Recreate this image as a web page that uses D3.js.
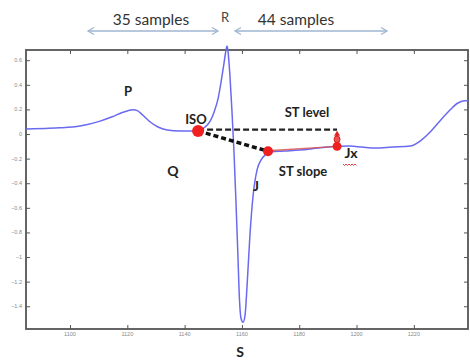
<!DOCTYPE html>
<html><head><meta charset="utf-8">
<script src="https://cdn.jsdelivr.net/npm/d3@7"></script>
<style>body{margin:0;background:#fff}svg{display:block}</style>
</head><body>
<script>
const sampleX = [1084.6,1091.3,1096.5,1103.5,1110.5,1114.7,1118.2,1120.2,1122.0,1123.5,1125.1,1127.9,1130.7,1133.9,1138.4,1142.6,1145.0,1147.1,1148.9,1150.3,1151.7,1152.7,1153.8,1154.5,1154.8,1155.1,1155.8,1156.5,1157.2,1157.9,1158.6,1159.0,1159.7,1160.4,1161.1,1161.8,1162.8,1163.9,1165.3,1166.7,1168.1,1169.8,1175.1,1180.3,1186.6,1193.2,1197.7,1201.9,1206.5,1212.4,1218.7,1222.2,1225.7,1229.1,1232.6,1235.4,1237.9,1239.0];
const ecgY = [0.04,0.045,0.05,0.065,0.105,0.14,0.175,0.19,0.197,0.19,0.16,0.10,0.057,0.033,0.024,0.024,0.033,0.057,0.105,0.18,0.29,0.42,0.585,0.69,0.715,0.68,0.48,0.195,-0.13,-0.54,-0.985,-1.27,-1.50,-1.53,-1.47,-1.23,-0.82,-0.50,-0.29,-0.21,-0.17,-0.146,-0.138,-0.13,-0.114,-0.10,-0.098,-0.106,-0.114,-0.106,-0.098,-0.057,0.016,0.106,0.195,0.252,0.27,0.27];
const xTicks = [1100,1120,1140,1160,1180,1200,1220];
const yTicks = [0.6,0.4,0.2,0,-0.2,-0.4,-0.6,-0.8,-1,-1.2,-1.4];
const pointNames = ["ISO","J","Jx"];
const pointX = [1144.7,1169.1,1193.2];
const pointY = [0.025,-0.14,-0.10];

const W=470,H=363;
const svg=d3.select("body").append("svg").attr("width",W).attr("height",H);
const L=26,R=468,T=50,B=329;
const x=d3.scaleLinear().domain([1084.64,1238.9]).range([L,R]);
const y=d3.scaleLinear().domain([-1.585,0.683]).range([B,T]);

svg.append("rect").attr("x",L).attr("y",T).attr("width",R-L).attr("height",B-T)
  .attr("fill","none").attr("stroke","#555").attr("stroke-width",1.8);

const fmtY=d=>d===0?"0":d3.format("")(d);
const ya=svg.append("g").attr("transform",`translate(${L},0)`)
  .call(d3.axisRight(y).tickValues(yTicks).tickSize(4).tickFormat(""));
ya.select(".domain").remove();
ya.selectAll("line").attr("stroke","#555");
svg.append("g").selectAll("text").data(yTicks).join("text")
  .attr("x",L-4).attr("y",d=>y(d)+2).attr("text-anchor","end")
  .attr("font-family","Liberation Sans, Arial").attr("font-size",5.5).attr("fill","#888").text(fmtY);
const yr=svg.append("g").attr("transform",`translate(${R},0)`)
  .call(d3.axisLeft(y).tickValues(yTicks).tickSize(4).tickFormat(""));
yr.select(".domain").remove();
yr.selectAll("line").attr("stroke","#555");
const xa=svg.append("g").attr("transform",`translate(0,${B})`)
  .call(d3.axisTop(x).tickValues(xTicks).tickSize(4).tickFormat(""));
xa.select(".domain").remove();
xa.selectAll("line").attr("stroke","#555");
svg.append("g").selectAll("text").data(xTicks).join("text")
  .attr("x",d=>x(d)).attr("y",B+7).attr("text-anchor","middle")
  .attr("font-family","Liberation Sans, Arial").attr("font-size",5.5).attr("fill","#888").text(d=>d);
const xt=svg.append("g").attr("transform",`translate(0,${T})`)
  .call(d3.axisBottom(x).tickValues(xTicks).tickSize(4).tickFormat(""));
xt.select(".domain").remove();
xt.selectAll("line").attr("stroke","#555");

const pts=sampleX.map((d,i)=>[d,ecgY[i]]);
svg.append("path").datum(pts)
  .attr("d",d3.line().x(d=>x(d[0])).y(d=>y(d[1])).curve(d3.curveMonotoneX))
  .attr("fill","none").attr("stroke","#6a6af0").attr("stroke-width",1.5);

svg.append("line").attr("x1",x(pointX[0])).attr("y1",y(0.035)).attr("x2",x(pointX[2])).attr("y2",y(0.035))
  .attr("stroke","#222").attr("stroke-width",2.2).attr("stroke-dasharray","6,3");
svg.append("line").attr("x1",x(pointX[0])).attr("y1",y(pointY[0])).attr("x2",x(pointX[1])).attr("y2",y(pointY[1]))
  .attr("stroke","#111").attr("stroke-width",3.5).attr("stroke-dasharray","5,3");
svg.append("line").attr("x1",x(pointX[1])).attr("y1",y(pointY[1])-0.5).attr("x2",x(pointX[2])).attr("y2",y(pointY[2]))
  .attr("stroke","#d9534f").attr("stroke-width",1.3).attr("opacity",0.85);
svg.append("line").attr("x1",x(pointX[2])).attr("y1",y(pointY[2])).attr("x2",x(pointX[2])).attr("y2",y(0.035)+4)
  .attr("stroke","#e02020").attr("stroke-width",1.5);
svg.append("path").attr("d",`M${x(pointX[2])-3},${y(0.035)+6} L${x(pointX[2])},${y(0.035)+1} L${x(pointX[2])+3},${y(0.035)+6} Z`).attr("fill","#e02020");
svg.append("ellipse").attr("cx",x(pointX[2])).attr("cy",y(pointY[2])-7).attr("rx",3).attr("ry",3.5)
  .attr("fill","#f05050").attr("stroke","#c01010").attr("stroke-width",0.8);
const rs=[6,5,4.5];
svg.selectAll("circle.pt").data(pointNames).join("circle").attr("class","pt")
  .attr("cx",(d,i)=>x(pointX[i])).attr("cy",(d,i)=>y(pointY[i])).attr("r",(d,i)=>rs[i]).attr("fill","#ee2020");

const txt=(s,px,py,size,anchor="middle",weight="bold",fill="#222")=>svg.append("text")
  .attr("x",px).attr("y",py).attr("text-anchor",anchor).attr("font-family","Lato, Open Sans, sans-serif")
  .attr("font-size",size).attr("font-weight",weight).attr("fill",fill).text(s);
txt("35 samples",151,25,15.5,"middle","normal","#333");
txt("44 samples",296,25,15.5,"middle","normal","#333");
txt("R",225,22,13,"middle","normal","#444");
txt("P",128,96,13);
txt("ISO",196,124,13);
txt("Q",173,176,14);
txt("J",256,191,14);
txt("ST level",307,117,13);
txt("ST slope",303,176,13);
txt("Jx",351,158,14);
txt("S",240,357,14);
{let p=`M343,164`;for(let i=0;i<9;i++){p+=` l1.5,${i%2?-1.5:1.5}`;}
svg.append("path").attr("d",p).attr("fill","none").attr("stroke","#e03030").attr("stroke-width",0.9);}

const ac="#9fb6d0";
const arrow=(x1,x2,yy)=>{
  svg.append("line").attr("x1",x1).attr("x2",x2).attr("y1",yy).attr("y2",yy).attr("stroke",ac).attr("stroke-width",1.3);
  svg.append("path").attr("d",`M${x1+6},${yy-3.5} L${x1},${yy} L${x1+6},${yy+3.5}`).attr("fill","none").attr("stroke",ac).attr("stroke-width",1.3);
  svg.append("path").attr("d",`M${x2-6},${yy-3.5} L${x2},${yy} L${x2-6},${yy+3.5}`).attr("fill","none").attr("stroke",ac).attr("stroke-width",1.3);
};
arrow(88,218,31);
arrow(235,387,31);
</script>
</body></html>
